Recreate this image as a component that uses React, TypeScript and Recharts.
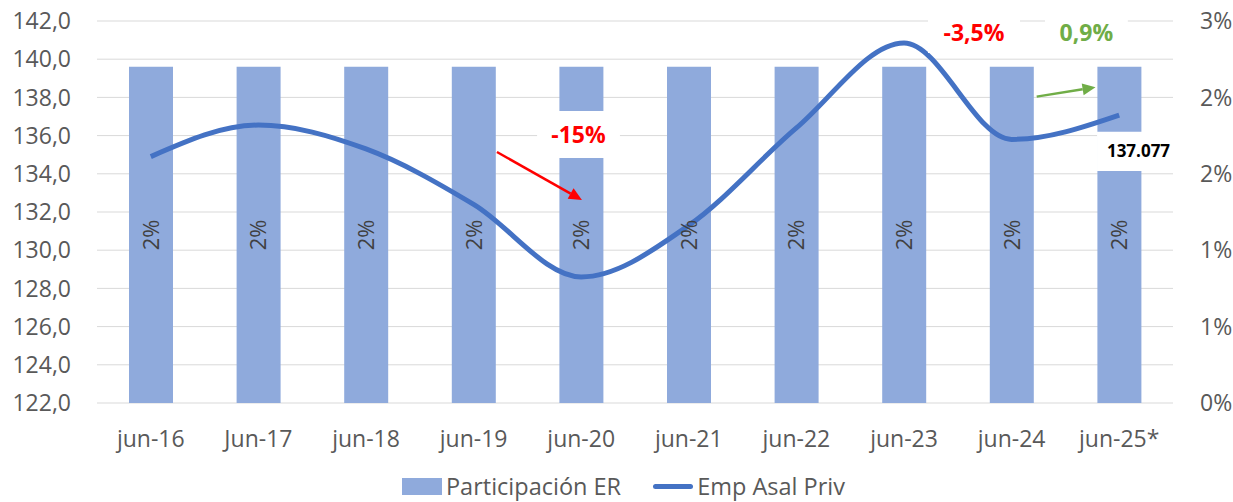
import React from "react";
import {
  ComposedChart,
  Bar,
  Line,
  XAxis,
  YAxis,
  CartesianGrid,
  Legend,
  LabelList,
  ReferenceArea,
  ReferenceLine,
  Label,
} from "recharts";

const categories = ["jun-16", "Jun-17", "jun-18", "jun-19", "jun-20", "jun-21", "jun-22", "jun-23", "jun-24", "jun-25*"];
const empAsalPriv = [134.9, 136.55, 135.3, 132.4, 128.6, 131.3, 136.4, 140.85, 135.8, 137.077];
const participacionER = [2.64, 2.64, 2.64, 2.64, 2.64, 2.64, 2.64, 2.64, 2.64, 2.64];
const leftTicks = [122, 124, 126, 128, 130, 132, 134, 136, 138, 140, 142];
const rightTicks = [0, 0.6, 1.2, 1.8, 2.4, 3.0];
const xTicks = categories.map((_, i) => i);

const data = categories.map((c, i) => ({ idx: i, cat: c, emp: empAsalPriv[i], part: participacionER[i] }));

const FONT = "'Open Sans', 'Noto Sans', sans-serif";
const GRAY = "#595959";
const BAR = "#8FAADC";
const LINE = "#4472C4";
const RED = "#FF0000";
const GREEN = "#70AD47";

const arrowShape = (color: string) => (props: any) => {
  const { x1, y1, x2, y2 } = props;
  if ([x1, y1, x2, y2].some((v) => v == null || isNaN(v))) return <g />;
  const ang = Math.atan2(y2 - y1, x2 - x1);
  const len = 13;
  const half = 6;
  const bx = x2 - len * Math.cos(ang);
  const by = y2 - len * Math.sin(ang);
  const px = -Math.sin(ang) * half;
  const py = Math.cos(ang) * half;
  return (
    <g>
      <line x1={x1} y1={y1} x2={bx} y2={by} stroke={color} strokeWidth={2.5} />
      <polygon points={`${x2},${y2} ${bx + px},${by + py} ${bx - px},${by - py}`} fill={color} />
    </g>
  );
};

const LegendContent = () => (
  <div
    style={{
      display: "flex",
      justifyContent: "center",
      alignItems: "center",
      fontFamily: FONT,
      fontSize: 23.5,
      lineHeight: "26px",
      color: GRAY,
      height: 26,
      paddingTop: 4,
      paddingLeft: 14,
    }}
  >
    <span style={{ display: "inline-block", width: 40, height: 17, background: BAR, marginRight: 4 }} />
    <span style={{ marginRight: 32 }}>Participación ER</span>
    <span style={{ display: "inline-block", width: 40, height: 5, borderRadius: 3, background: LINE, marginRight: 4 }} />
    <span>Emp Asal Priv</span>
  </div>
);

export default function App() {
  return (
    <div style={{ position: "absolute", left: 0, top: 0, width: 1233, height: 502, background: "#fff" }}>
      <ComposedChart
        width={1233}
        height={502}
        data={data}
        margin={{ top: 21, right: 0, left: 0, bottom: 0 }}
        style={{ fontFamily: FONT }}
      >
        <CartesianGrid yAxisId="left" vertical={false} stroke="#D9D9D9" strokeWidth={1} />
        <XAxis
          dataKey="idx"
          type="number"
          domain={[-0.5, 9.5]}
          ticks={xTicks}
          interval={0}
          allowDataOverflow
          height={66}
          axisLine={false}
          tickLine={false}
          tickMargin={22}
          tickFormatter={(i: number) => categories[i] ?? ""}
          tick={{ fill: GRAY, fontSize: 23, fontFamily: FONT }}
        />
        <YAxis
          yAxisId="left"
          orientation="left"
          width={97}
          domain={[122, 142]}
          ticks={leftTicks}
          interval={0}
          axisLine={false}
          tickLine={false}
          tickMargin={20}
          tickFormatter={(v: number) => v.toFixed(1).replace(".", ",")}
          tick={{ fill: GRAY, fontSize: 23, fontFamily: FONT }}
        />
        <YAxis
          yAxisId="right"
          orientation="right"
          width={60}
          domain={[0, 3]}
          ticks={rightTicks}
          interval={0}
          axisLine={false}
          tickLine={false}
          tickMargin={21}
          tickFormatter={(v: number) => `${Math.round(v)}%`}
          tick={{ fill: GRAY, fontSize: 23, fontFamily: FONT, textAnchor: "start" }}
        />
        <Legend verticalAlign="bottom" height={33} content={<LegendContent />} />
        <Bar
          dataKey="part"
          name="Participación ER"
          yAxisId="right"
          fill={BAR}
          barSize={44}
          isAnimationActive={false}
        >
          <LabelList
            dataKey="part"
            position="center"
            angle={-90}
            formatter={(v: any) => `${Math.floor(Number(v))}%`}
            fill="#404040"
            fontSize={22}
            fontFamily={FONT}
          />
        </Bar>
        <Line
          dataKey="emp"
          name="Emp Asal Priv"
          yAxisId="left"
          type="monotone"
          stroke={LINE}
          strokeWidth={5}
          dot={false}
          isAnimationActive={false}
        />
        <ReferenceArea
          yAxisId="left"
          x1={3.59}
          x2={4.36}
          y1={134.83}
          y2={137.29}
          fill="#fff"
          fillOpacity={1}
          stroke="none"
          ifOverflow="visible"
          zIndex={450}
        >
          <Label value="-15%" position="center" fill={RED} fontSize={23} fontWeight={700} fontFamily={FONT} />
        </ReferenceArea>
        <ReferenceArea
          yAxisId="left"
          x1={7.223}
          x2={8.078}
          y1={140.32}
          y2={142.47}
          fill="#fff"
          fillOpacity={1}
          stroke="none"
          ifOverflow="visible"
          zIndex={450}
        >
          <Label value="-3,5%" position="center" fill={RED} fontSize={23} fontWeight={700} fontFamily={FONT} />
        </ReferenceArea>
        <ReferenceArea
          yAxisId="left"
          x1={8.31}
          x2={9.08}
          y1={140.32}
          y2={142.47}
          fill="#fff"
          fillOpacity={1}
          stroke="none"
          ifOverflow="visible"
          zIndex={450}
        >
          <Label value="0,9%" position="center" fill={GREEN} fontSize={23} fontWeight={700} fontFamily={FONT} />
        </ReferenceArea>
        <ReferenceArea
          yAxisId="left"
          x1={8.794}
          x2={9.565}
          y1={134.15}
          y2={136.2}
          fill="#fff"
          fillOpacity={1}
          stroke="none"
          ifOverflow="visible"
          zIndex={450}
        >
          <Label value="137.077" position="center" fill="#000" fontSize={17} fontWeight={700} fontFamily={FONT} />
        </ReferenceArea>
        <ReferenceLine
          yAxisId="left"
          segment={[{ x: 3.217, y: 135.14 }, { x: 4.007, y: 132.63 }]}
          stroke={RED}
          ifOverflow="visible"
          shape={arrowShape(RED)}
          zIndex={460}
        />
        <ReferenceLine
          yAxisId="left"
          segment={[{ x: 8.233, y: 138.04 }, { x: 8.78, y: 138.53 }]}
          stroke={GREEN}
          ifOverflow="visible"
          shape={arrowShape(GREEN)}
          zIndex={460}
        />
      </ComposedChart>
    </div>
  );
}
